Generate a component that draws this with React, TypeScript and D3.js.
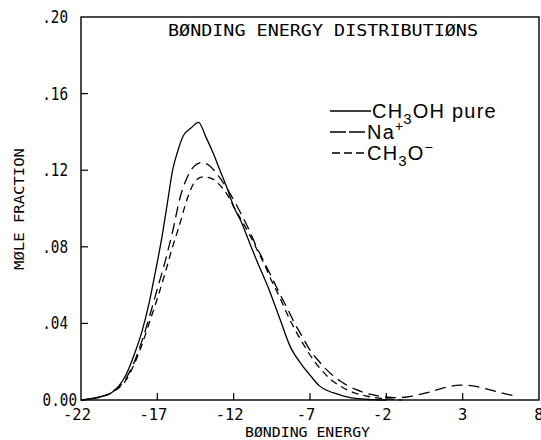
import React from "react"
import * as d3 from "d3"

// bonding energy values and mole fractions
const pureEnergy = [-22, -21, -20, -19.5, -19, -18.5, -18, -17.5, -17.2, -16.7, -16.3, -16, -15.7, -15.3, -14.8, -14.3, -13.8, -13.4, -12.9, -12.4, -12, -11.5, -11.1, -10.5, -9.75, -9, -8.3, -7.5, -7, -6.4, -5.5, -5, -4.5, -4, -3, -2]
const pureFraction = [0, 0.0013, 0.0038, 0.0075, 0.014, 0.024, 0.036, 0.052, 0.064, 0.085, 0.105, 0.12, 0.129, 0.138, 0.142, 0.145, 0.137, 0.13, 0.12, 0.11, 0.101, 0.093, 0.085, 0.073, 0.059, 0.043, 0.028, 0.018, 0.013, 0.0075, 0.0038, 0.0026, 0.0015, 0.0008, 0.0002, 0]

const naEnergy = [-22, -21, -20, -19, -18.5, -18, -17.5, -17, -16.5, -16, -15.5, -15, -14.6, -14.1, -13.6, -13, -12.4, -11.5, -11, -10.5, -10, -9.5, -9.2, -8.5, -8, -7.5, -7, -6.5, -6, -5.5, -5, -4.5, -4, -3.5, -3, -2.5, -2, -1.5, -1, -0.5, 0, 1, 2, 2.8, 3.5, 4.5, 5.5, 6.5]
const naFraction = [0, 0.0012, 0.004, 0.012, 0.02, 0.031, 0.044, 0.058, 0.072, 0.088, 0.106, 0.117, 0.122, 0.124, 0.1225, 0.117, 0.11, 0.097, 0.089, 0.08, 0.072, 0.064, 0.059, 0.048, 0.04, 0.033, 0.026, 0.021, 0.0165, 0.0128, 0.0098, 0.0074, 0.0055, 0.004, 0.0029, 0.002, 0.0015, 0.0012, 0.0013, 0.0018, 0.0026, 0.0045, 0.0068, 0.0078, 0.0075, 0.006, 0.0038, 0.002]

const methoxideEnergy = [-22, -21, -20, -19, -18.5, -18, -17.5, -17, -16.5, -16, -15.6, -15, -14.5, -14, -13.4, -13, -12.4, -12, -11.5, -11, -10.5, -10, -9.5, -9, -8.5, -8, -7.5, -7, -6.5, -6, -5.5, -5, -4.5, -4, -3.5, -3, -2.5, -2, -1]
const methoxideFraction = [0, 0.001, 0.0038, 0.011, 0.019, 0.029, 0.041, 0.053, 0.066, 0.08, 0.09, 0.106, 0.1145, 0.1165, 0.1155, 0.113, 0.107, 0.101, 0.094, 0.087, 0.079, 0.071, 0.062, 0.054, 0.045, 0.037, 0.03, 0.0235, 0.018, 0.0135, 0.0098, 0.0072, 0.005, 0.0035, 0.0024, 0.0016, 0.001, 0.0006, 0]

const xTicks = [-22, -17, -12, -7, -2, 3, 8]
const yTicks = [0, 0.04, 0.08, 0.12, 0.16, 0.2]
const yTickLabels = ["0.00", ".04", ".08", ".12", ".16", ".20"]

const mono = "'DejaVu Sans Mono', monospace"
const sans = "'Liberation Sans', Arial, sans-serif"

export default function App() {
  const width = 541,
    height = 440
  const left = 81,
    right = 539,
    top = 17,
    bottom = 400

  const x = d3.scaleLinear().domain([-22, 8]).range([left, right])
  const y = d3.scaleLinear().domain([0, 0.2]).range([bottom, top])

  const line = d3
    .line<[number, number]>()
    .x(d => x(d[0]))
    .y(d => y(d[1]))
    .curve(d3.curveMonotoneX)

  const series = [
    { e: pureEnergy, f: pureFraction, dash: "none" },
    { e: naEnergy, f: naFraction, dash: "11,6" },
    { e: methoxideEnergy, f: methoxideFraction, dash: "7,5" },
  ]

  return (
    <svg
      width={width}
      height={height}
      style={{ position: "absolute", left: 0, top: 0, background: "white" }}
    >
      {/* frame */}
      <rect x={left} y={top} width={right - left} height={bottom - top} fill="none" stroke="#000" strokeWidth={1.4} />

      {/* inward ticks */}
      {xTicks.slice(1, -1).map(t => (
        <line key={"xt" + t} x1={x(t)} x2={x(t)} y1={bottom} y2={bottom - 7} stroke="#000" strokeWidth={1.2} />
      ))}
      {yTicks.slice(1, -1).map(t => (
        <line key={"yt" + t} x1={left} x2={left + 7} y1={y(t)} y2={y(t)} stroke="#000" strokeWidth={1.2} />
      ))}

      {/* tick labels */}
      {xTicks.map(t => (
        <text
          key={"xl" + t}
          x={x(t) - (t < 0 ? 4 : 0)}
          y={420}
          textAnchor="middle"
          fontFamily={mono}
          fontSize={16}
          textLength={String(t).length * 9.3}
          lengthAdjust="spacingAndGlyphs"
        >
          {String(t)}
        </text>
      ))}
      {yTicks.map((t, i) => (
        <text
          key={"yl" + t}
          x={i === 0 ? 77 : 68}
          y={y(t) + 6}
          textAnchor="end"
          fontFamily={mono}
          fontSize={17}
          textLength={yTickLabels[i].length * 8.6}
          lengthAdjust="spacingAndGlyphs"
        >
          {yTickLabels[i]}
        </text>
      ))}

      {/* titles */}
      <text x={168} y={36} fontFamily={mono} fontSize={16} textLength={310} lengthAdjust="spacingAndGlyphs">
        BØNDING ENERGY DISTRIBUTIØNS
      </text>
      <text x={245} y={437} fontFamily={mono} fontSize={14} textLength={125} lengthAdjust="spacingAndGlyphs">
        BØNDING ENERGY
      </text>
      <text
        transform="translate(24,209) rotate(-90)"
        textAnchor="middle"
        fontFamily={mono}
        fontSize={14}
        textLength={122}
        lengthAdjust="spacingAndGlyphs"
      >
        MØLE FRACTION
      </text>

      {/* curves */}
      {series.map((s, i) => (
        <path
          key={"s" + i}
          d={line(s.e.map((e, j) => [e, s.f[j]] as [number, number])) || ""}
          fill="none"
          stroke="#000"
          strokeWidth={1.3}
          strokeDasharray={s.dash}
        />
      ))}

      {/* legend */}
      <g fontFamily={sans} fontSize={20} letterSpacing={1.2}>
        <line x1={330} x2={371} y1={111} y2={111} stroke="#000" strokeWidth={1.3} />
        <text x={372} y={118}>
          CH<tspan fontSize={15} dy={6}>3</tspan>
          <tspan dy={-6}>OH pure</tspan>
        </text>
        <line x1={330} x2={365} y1={132} y2={132} stroke="#000" strokeWidth={1.3} strokeDasharray="16,3" />
        <text x={367} y={139}>
          Na<tspan fontSize={14} dy={-8}>+</tspan>
        </text>
        <line x1={332} x2={366} y1={153} y2={153} stroke="#000" strokeWidth={1.3} strokeDasharray="8,4" />
        <text x={367} y={160}>
          CH<tspan fontSize={15} dy={6}>3</tspan>
          <tspan dy={-6}>O</tspan>
          <tspan fontSize={14} dy={-8}>−</tspan>
        </text>
      </g>
    </svg>
  )
}
